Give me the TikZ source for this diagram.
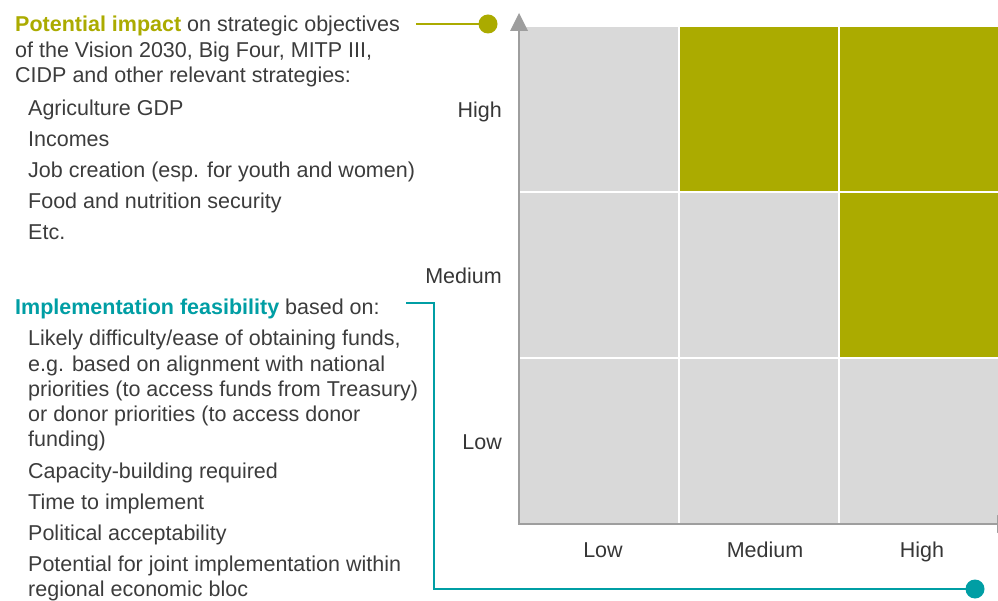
\documentclass[tikz,border=0pt]{standalone}
\usepackage{fontspec}
\setmainfont{Liberation Sans}
\definecolor{olive}{HTML}{ABAB00}
\definecolor{teal}{HTML}{009EA4}
\definecolor{cellgray}{HTML}{D9D9D9}
\definecolor{axisgray}{HTML}{9E9E9E}
\definecolor{txt}{HTML}{3C3C3C}
\begin{document}
\begin{tikzpicture}[x=1pt,y=-1pt,
  txtline/.style={anchor=base west,inner sep=0pt,text=txt,font=\fontsize{21.5}{25}\selectfont},
  axlabel/.style={anchor=base,inner sep=0pt,text=txt!90!black,font=\fontsize{21.5}{25}\selectfont},
  ylab/.style={anchor=base east,inner sep=0pt,text=txt!90!black,font=\fontsize{21.5}{25}\selectfont},
  graycell/.style={fill=cellgray,draw=white,line width=2pt},
  greencell/.style={fill=olive,draw=white,line width=2pt},
  axisline/.style={draw=axisgray,line width=2.2pt},
  axishead/.style={fill=axisgray},
]
\useasboundingbox (0,0) rectangle (998,601);
\clip (0,0) rectangle (998,601);
% grid
\path[graycell] (519,26) rectangle (679,192);
\path[greencell] (679,26) rectangle (839,192);
\path[greencell] (839,26) rectangle (1010,192);
\path[graycell] (519,192) rectangle (679,358);
\path[graycell] (679,192) rectangle (839,358);
\path[greencell] (839,192) rectangle (1010,358);
\path[graycell] (519,358) rectangle (679,524);
\path[graycell] (679,358) rectangle (839,524);
\path[graycell] (839,358) rectangle (1010,524);
% axes
\coordinate (origin) at (519,524);
\coordinate (ybase) at (519,30);
\coordinate (xbase) at (998,524);
\draw[axisline] (ybase) -- (origin) -- (xbase);
\fill[axishead] (510,31) -- (528,31) -- (519,13) -- cycle;
\fill[axishead] (997,515) -- (997,533) -- (1015,524) -- cycle;
% y labels
\node[ylab] (yhigh) at (502,118) {High};
\node[ylab] (ymed) at (502,284) {Medium};
\node[ylab] (ylow) at (502,449) {Low};
% x labels
\node[axlabel] (xlow) at (603,557) {Low};
\node[axlabel] (xmed) at (765,557) {Medium};
\node[axlabel] (xhigh) at (922,557) {High};
% impact text
\node[txtline] (p1) at (15,31.5) {\textcolor{olive}{\bfseries Potential impact} on strategic objectives};
\node[txtline] (p2) at (15,57.5) {of the Vision 2030, Big Four, MITP III,};
\node[txtline] (p3) at (15,83) {CIDP and other relevant strategies:};
\node[txtline] (i1) at (28,116) {Agriculture GDP};
\node[txtline] (i2) at (28,147) {Incomes};
\node[txtline] (i3) at (28,178) {Job creation (esp. for youth and women)};
\node[txtline] (i4) at (28,209) {Food and nutrition security};
\node[txtline] (i5) at (28,240) {Etc.};
% feasibility text
\node[txtline] (f0) at (15,315) {\textcolor{teal}{\bfseries Implementation feasibility} based on:};
\node[txtline] (f1) at (28,345.5) {Likely difficulty/ease of obtaining funds,};
\node[txtline] (f2) at (28,371) {e.g. based on alignment with national};
\node[txtline] (f3) at (28,396.5) {priorities (to access funds from Treasury)};
\node[txtline] (f4) at (28,421.5) {or donor priorities (to access donor};
\node[txtline] (f5) at (28,446.5) {funding)};
\node[txtline] (f6) at (28,478) {Capacity-building required};
\node[txtline] (f7) at (28,509) {Time to implement};
\node[txtline] (f8) at (28,540) {Political acceptability};
\node[txtline] (f9) at (28,571.5) {Potential for joint implementation within};
\node[txtline] (f10) at (28,596.5) {regional economic bloc};
% connectors
\coordinate (ostart) at (416,24);
\coordinate (odot) at (488,24);
\draw[olive,line width=2.6pt] (ostart) -- (odot);
\fill[olive] (odot) circle (9.5);
\coordinate (tstart) at (406,303);
\coordinate (tcorner1) at (434,303);
\coordinate (tcorner2) at (434,589);
\coordinate (tdot) at (975,589);
\draw[teal,line width=2.6pt] (tstart) -- (tcorner1) -- (tcorner2) -- (tdot);
\fill[teal] (tdot) circle (9.5);
\end{tikzpicture}
\end{document}
